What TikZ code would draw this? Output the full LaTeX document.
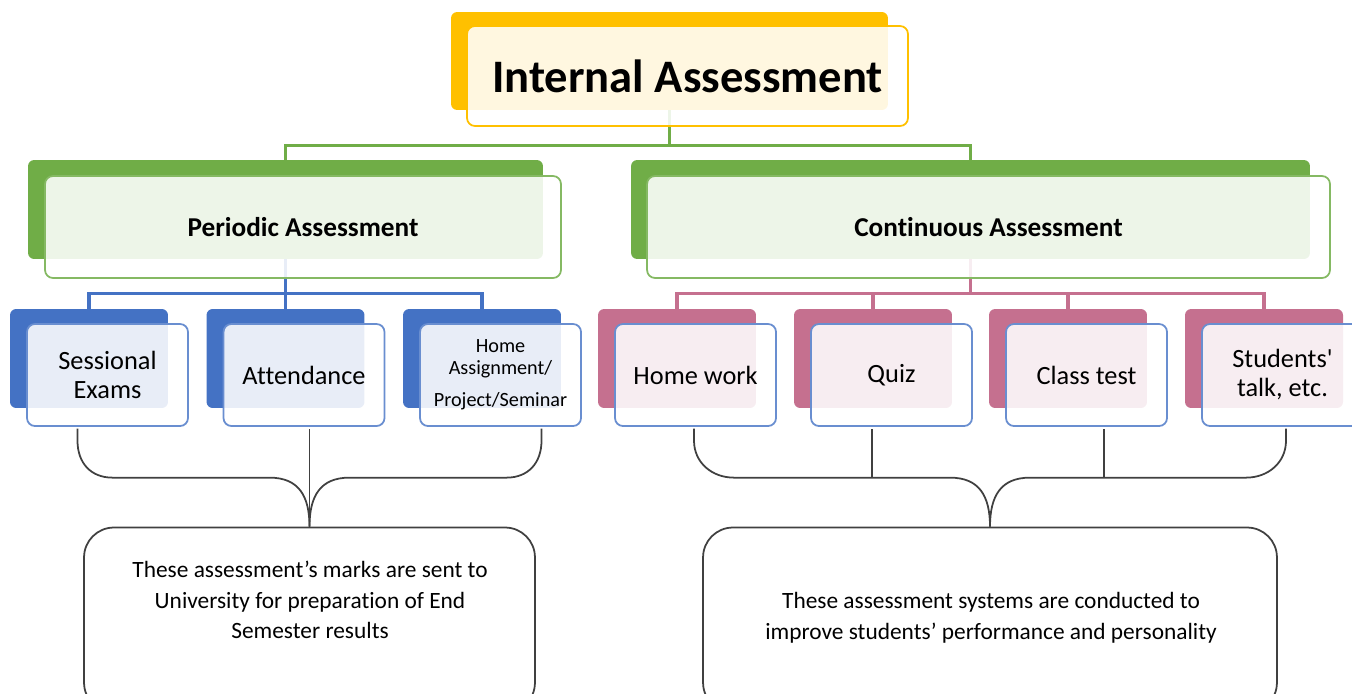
\documentclass[tikz,border=0pt]{standalone}
\usepackage{fontspec}
\setmainfont{Carlito}[Ligatures={TeX,NoCommon}]
\usetikzlibrary{positioning}

\definecolor{iayellow}{RGB}{255,192,0}
\definecolor{iagreen}{RGB}{112,173,71}
\definecolor{iablue}{RGB}{68,114,196}
\definecolor{iapink}{RGB}{197,112,143}
\definecolor{iagrey}{RGB}{64,64,64}

\tikzset{
  back/.style={fill=#1, rounded corners=3.5pt, inner sep=0pt},
  smallb/.style={minimum width=3.16cm, minimum height=1.98cm},
  front/.style={draw=#1, line width=1pt, rounded corners=4.5pt, fill=white, fill opacity=0.88, text opacity=1, inner sep=0pt, align=center},
  item/.style={minimum width=3.22cm, minimum height=2.04cm, font=\fontsize{15}{16.5}\selectfont},
  head/.style={minimum height=2.04cm, font=\fontsize{15.5}{18}\selectfont\bfseries},
  link/.style={draw=#1, line width=1.8pt},
  brace/.style={draw=iagrey, line width=1pt},
  note/.style={draw=iagrey, line width=1pt, rounded corners=17pt, inner sep=0pt},
  notetext/.style={align=center, font=\fontsize{13.3}{17.5}\selectfont, inner sep=0pt}
}

\begin{document}
\begin{tikzpicture}[x=0.02cm, y=-0.02cm]
\useasboundingbox (0,0) rectangle (1352,693);
\clip (0,0) rectangle (1352,693);

% back boxes
\node[back=iayellow, minimum width=8.74cm, minimum height=1.96cm] (bia) at (669.5,61) {};
\node[back=iagreen, minimum width=10.3cm, minimum height=1.98cm] (bpa) at (285.5,209.5) {};
\node[back=iagreen, minimum width=13.58cm, minimum height=1.98cm] (bca) at (970.5,209.5) {};
\foreach \n/\x in {se/89, at/285.5, hp/482}
  \node[back=iablue, smallb] (b\n) at (\x,358.5) {};
\foreach \n/\x in {hw/677, qz/873, ct/1068, st/1264}
  \node[back=iapink, smallb] (b\n) at (\x,358.5) {};

% connectors
\draw[link=iagreen] (bia.south) -- ++(0,35) coordinate (iaj);
\draw[link=iagreen] (iaj) -| (bpa.north);
\draw[link=iagreen] (iaj) -| (bca.north);

\draw[link=iablue] (bpa.south) -- ++(0,34) coordinate (paj);
\foreach \n in {se,at,hp}
  \draw[link=iablue] (paj) -| (b\n.north);

\draw[link=iapink] (bca.south) -- ++(0,34) coordinate (caj);
\foreach \n in {hw,qz,ct,st}
  \draw[link=iapink] (caj) -| (b\n.north);

% front boxes
\node[front=iayellow, minimum width=8.82cm, minimum height=2cm, font=\fontsize{26.5}{30}\selectfont\bfseries] (ia) at ([shift={(18,15)}]bia.center) {Internal Assessment};
\node[front=iagreen!85, head, minimum width=10.32cm] (pa) at ([shift={(17.5,17.5)}]bpa.center) {Periodic Assessment};
\node[front=iagreen!85, head, minimum width=13.66cm] (ca) at ([shift={(18,17.5)}]bca.center) {Continuous Assessment};

\node[front=iablue!80, item] (se) at ([shift={(18.5,16.5)}]bse.center) {Sessional\\Exams};
\node[front=iablue!80, item] (at) at ([shift={(18.5,16.5)}]bat.center) {Attendance};
\node[front=iablue!80, item, font=\fontsize{11.5}{12.5}\selectfont] (hp) at ([shift={(18.5,16.5)}]bhp.center) {Home\\Assignment/\\[6pt]Project/Seminar};

\node[front=iablue!80, item] (hw) at ([shift={(18.5,16.5)}]bhw.center) {Home work};
\node[front=iablue!80, item] (qz) at ([shift={(18.5,16.5)}]bqz.center) {Quiz};
\node[front=iablue!80, item] (ct) at ([shift={(18.5,16.5)}]bct.center) {Class test};
\node[front=iablue!80, item] (st) at ([shift={(18.5,16.5)}]bst.center) {Students\textquotesingle\\talk, etc.};

% notes
\node[note, minimum width=9.02cm, minimum height=3.7cm] (pnote) at (309.5,620) {};
\node[notetext] (ptext) at (310,600) {These assessment’s marks are sent to\\University for preparation of End\\Semester results};
\node[note, minimum width=11.48cm, minimum height=3.7cm] (cnote) at (990,620) {};
\node[notetext] (ctext) at (991,618) {These assessment systems are conducted to\\improve students’ performance and personality};

% braces
\draw[brace] (pnote.north) -- ++(0,-98);
\draw[brace] (pnote.north) .. controls +(0,-31) and +(29,0) .. ++(-40,-49) -- ++(-157,0) .. controls +(-22,0) and +(0,22) .. ++(-35,-37) -- ++(0,-12);
\draw[brace] (pnote.north) .. controls +(0,-31) and +(-29,0) .. ++(40,-49) -- ++(157,0) .. controls +(22,0) and +(0,22) .. ++(35,-37) -- ++(0,-12);

\draw[brace] (cnote.north) .. controls +(0,-31) and +(29,0) .. ++(-40,-49) -- ++(-216,0) .. controls +(-22,0) and +(0,22) .. ++(-40,-37) -- ++(0,-12);
\draw[brace] (cnote.north) .. controls +(0,-31) and +(-29,0) .. ++(40,-49) -- ++(216,0) .. controls +(22,0) and +(0,22) .. ++(40,-37) -- ++(0,-12);
\draw[brace] (cnote.north) ++(-118,-49) -- ++(0,-49);
\draw[brace] (cnote.north) ++(114,-49) -- ++(0,-49);

\end{tikzpicture}
\end{document}
